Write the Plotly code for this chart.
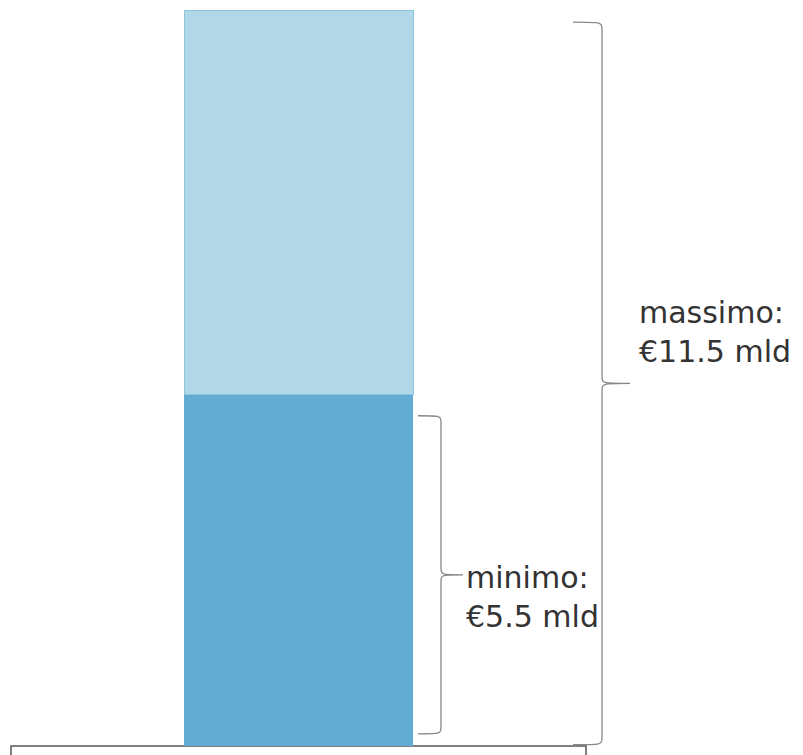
import plotly.graph_objects as go

# Data
categories = [""]
minimo = [5.5]
extra = [6.0]          # massimo - minimo
massimo_total = 11.5
label_min = ["minimo:", "€5.5 mld"]
label_max = ["massimo:", "€11.5 mld"]

W, H = 803, 755
PX_PER_UNIT = 64
Y0_PX = 746
yr = [-(H - Y0_PX) / PX_PER_UNIT, Y0_PX / PX_PER_UNIT]

bar_w_px = 229
bar_c_px = 298.5
xr = [-bar_c_px / bar_w_px, (W - bar_c_px) / bar_w_px]

fig = go.Figure()
fig.add_trace(go.Bar(x=[0], y=minimo, width=[1], marker=dict(color="#62acd4", line=dict(width=0))))
fig.add_trace(go.Bar(x=[0], y=extra, width=[1],
                     marker=dict(color="#b0d7e8", line=dict(color="#8ec3dc", width=1),
                                 pattern=dict(shape=".", fgcolor="#bfe0ee", bgcolor="#b0d7e8", size=4, solidity=0.2))))


def px(xp):
    return xp / W


def py(yp):
    return (Y0_PX - yp) / PX_PER_UNIT


def brace(x0, x1, x2, ytop, ybot):
    ymid = (ytop + ybot) / 2
    d = 0.12
    p = (f"M {px(x0)},{ytop} "
         f"C {px(x1)},{ytop} {px(x1)},{ytop} {px(x1)},{ytop - d} "
         f"L {px(x1)},{ymid + d} "
         f"C {px(x1)},{ymid} {px(x1)},{ymid} {px(x2)},{ymid} "
         f"C {px(x1)},{ymid} {px(x1)},{ymid} {px(x1)},{ymid - d} "
         f"L {px(x1)},{ybot + d} "
         f"C {px(x1)},{ybot} {px(x1)},{ybot} {px(x0)},{ybot}")
    return dict(type="path", path=p, xref="paper", yref="y",
                line=dict(color="#888888", width=1.3), layer="above")


shapes = []
# bottom box
shapes.append(dict(type="rect", xref="paper", yref="y", x0=px(11), x1=px(586), y0=-1, y1=0,
                   line=dict(color="#555555", width=1.5), fillcolor="white", layer="below"))
shapes.append(brace(418, 441, 463, minimo[0] - 0.34, 0.19))
shapes.append(brace(573, 602, 630, massimo_total - 0.19, 0.02))

font = dict(family="DejaVu Sans, Noto Sans, sans-serif", size=30, color="#333333")
annotations = []
for lines, xp, yp in [(label_min, 465, 597), (label_max, 638, 332)]:
    annotations.append(dict(x=px(xp), y=py(yp), xref="paper", yref="y", text="<br>".join(lines),
                            showarrow=False, xanchor="left", yanchor="middle", align="left",
                            font=font, borderpad=0))

fig.update_layout(
    width=W, height=H, barmode="stack", showlegend=False,
    margin=dict(l=0, r=0, t=0, b=0),
    paper_bgcolor="white", plot_bgcolor="white",
    xaxis=dict(range=xr, visible=False, fixedrange=True),
    yaxis=dict(range=yr, visible=False, fixedrange=True),
    shapes=shapes, annotations=annotations,
)
fig.write_html("out.html")
